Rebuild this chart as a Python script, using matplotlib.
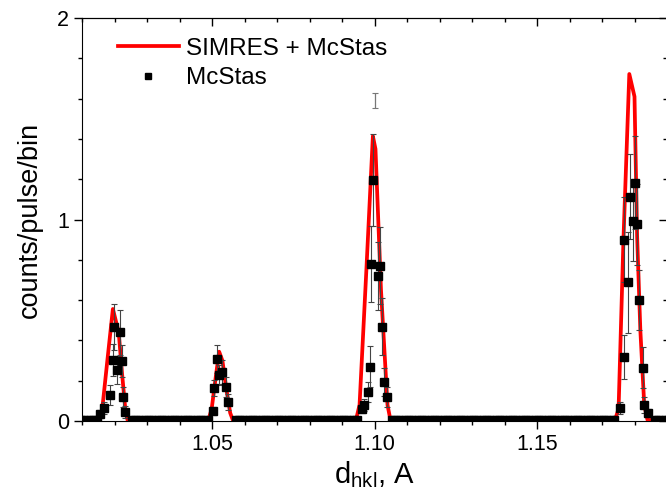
import numpy as np
import matplotlib
matplotlib.use("Agg")
import matplotlib.pyplot as plt
from matplotlib.ticker import MultipleLocator, FormatStrFormatter

plt.rcParams['font.family'] = ['Liberation Sans', 'DejaVu Sans']

# SIMRES + McStas simulated profile
sim_x = [1.0100, 1.0150, 1.0161, 1.0178, 1.0195, 1.0213, 1.0223, 1.0234, 1.0240,
         1.0489, 1.0499, 1.0510, 1.0522, 1.0532, 1.0545, 1.0556, 1.0564,
         1.0943, 1.0954, 1.0975, 1.0995, 1.1003, 1.1020, 1.1040, 1.1049,
         1.1740, 1.1751, 1.1766, 1.1784, 1.1800, 1.1808, 1.1818, 1.1830, 1.1840, 1.1900]
sim_y = [0.005, 0.005, 0.04, 0.30, 0.556, 0.44, 0.24, 0.046, 0.005,
         0.005, 0.06, 0.20, 0.344, 0.30, 0.15, 0.04, 0.005,
         0.005, 0.08, 0.75, 1.414, 1.35, 0.65, 0.08, 0.005,
         0.005, 0.06, 0.90, 1.722, 1.61, 0.92, 0.45, 0.08, 0.005, 0.005]

# McStas points in the peaks
mc_x = [1.0156, 1.0169, 1.0187, 1.0195, 1.0197, 1.0208, 1.0216, 1.0223, 1.0225, 1.0231,
        1.0502, 1.0507, 1.0515, 1.0523, 1.0531, 1.0543, 1.0549,
        1.0962, 1.0969, 1.0979, 1.0985, 1.0989, 1.0995, 1.1011, 1.1018, 1.1023, 1.1028, 1.1037,
        1.1756, 1.1767, 1.1768, 1.1780, 1.1787, 1.1794, 1.1800, 1.1808, 1.1813, 1.1826, 1.1828, 1.1843]
mc_y = [0.035, 0.063, 0.127, 0.303, 0.468, 0.253, 0.440, 0.299, 0.121, 0.046,
        0.050, 0.162, 0.306, 0.228, 0.242, 0.170, 0.096,
        0.058, 0.079, 0.146, 0.270, 0.779, 1.196, 0.720, 0.771, 0.468, 0.195, 0.121,
        0.063, 0.319, 0.900, 0.688, 1.113, 0.994, 1.183, 0.976, 0.600, 0.265, 0.079, 0.038]
mc_err = [0.02, 0.03, 0.05, 0.08, 0.115, 0.07, 0.11, 0.08, 0.05, 0.03,
          0.02, 0.04, 0.07, 0.05, 0.06, 0.05, 0.04,
          0.02, 0.03, 0.05, 0.10, 0.19, 0.23, 0.17, 0.19, 0.14, 0.07, 0.05,
          0.03, 0.11, 0.21, 0.25, 0.21, 0.20, 0.23, 0.20, 0.15, 0.10, 0.04, 0.02]

# lone error bar above the 1.10 peak
stray_x = [1.1002]
stray_y = [1.59]
stray_err = [0.037]

# McStas background bins (flat level between peaks)
bin_width = 0.001
background_level = 0.012
peak_windows = [(1.0150, 1.0240), (1.0490, 1.0565), (1.0950, 1.1048), (1.1748, 1.1850)]
bins = np.arange(1.0100, 1.1901, bin_width)
keep = np.ones(len(bins), dtype=bool)
for lo, hi in peak_windows:
    keep &= ~((bins > lo) & (bins < hi))
bg_x = bins[keep]
bg_y = np.full(len(bg_x), background_level)

fig = plt.figure(figsize=(6.66, 4.96), dpi=100)
ax = fig.add_axes([82 / 666, 75 / 496, 585 / 666, 403 / 496])

ax.plot(sim_x, sim_y, color='#ff0000', lw=2.7, label='SIMRES + McStas', zorder=3)
ax.errorbar(mc_x, mc_y, yerr=mc_err, fmt='none', ecolor='#444444',
            elinewidth=0.8, capsize=2, capthick=0.8, zorder=4)
ax.errorbar(stray_x, stray_y, yerr=stray_err, fmt='none', ecolor='#777777',
            elinewidth=0.9, capsize=2, capthick=0.8, zorder=4)
ax.plot(mc_x, mc_y, 's', color='black', ms=5.5, zorder=5)
ax.plot(bg_x, bg_y, 's', color='black', ms=5, zorder=5)
ax.plot([], [], 's', color='black', ms=4.5, label='McStas')

ax.set_xlim(1.01, 1.19)
ax.set_ylim(0, 2)
ax.xaxis.set_major_locator(MultipleLocator(0.05))
ax.xaxis.set_minor_locator(MultipleLocator(0.01))
ax.xaxis.set_major_formatter(FormatStrFormatter('%.2f'))
ax.yaxis.set_major_locator(MultipleLocator(1))
ax.yaxis.set_minor_locator(MultipleLocator(0.2))
ax.tick_params(which='both', direction='out', labelsize=15.5, width=1)
ax.tick_params(which='major', length=6)
ax.tick_params(which='minor', length=3)

for side in ['top', 'right']:
    sec = ax.secondary_xaxis('top') if side == 'top' else ax.secondary_yaxis('right')
    axis = sec.xaxis if side == 'top' else sec.yaxis
    axis.set_major_locator(MultipleLocator(0.05 if side == 'top' else 1))
    axis.set_minor_locator(MultipleLocator(0.01 if side == 'top' else 0.2))
    sec.tick_params(which='both', direction='in', labelsize=0, width=1)
    sec.tick_params(which='major', length=6)
    sec.tick_params(which='minor', length=3)
    axis.set_ticklabels([])

ax.set_xlabel(r'$\mathregular{d_{hkl}}$, A', fontsize=21, labelpad=3)
ax.set_ylabel('counts/pulse/bin', fontsize=19.5, labelpad=10)

ax.legend(loc='upper left', frameon=False, fontsize=17.5, handlelength=2.5,
          handletextpad=0.3, borderaxespad=0.0, labelspacing=0.3,
          bbox_to_anchor=(0.045, 0.975))

fig.savefig('out.png', dpi=100)
